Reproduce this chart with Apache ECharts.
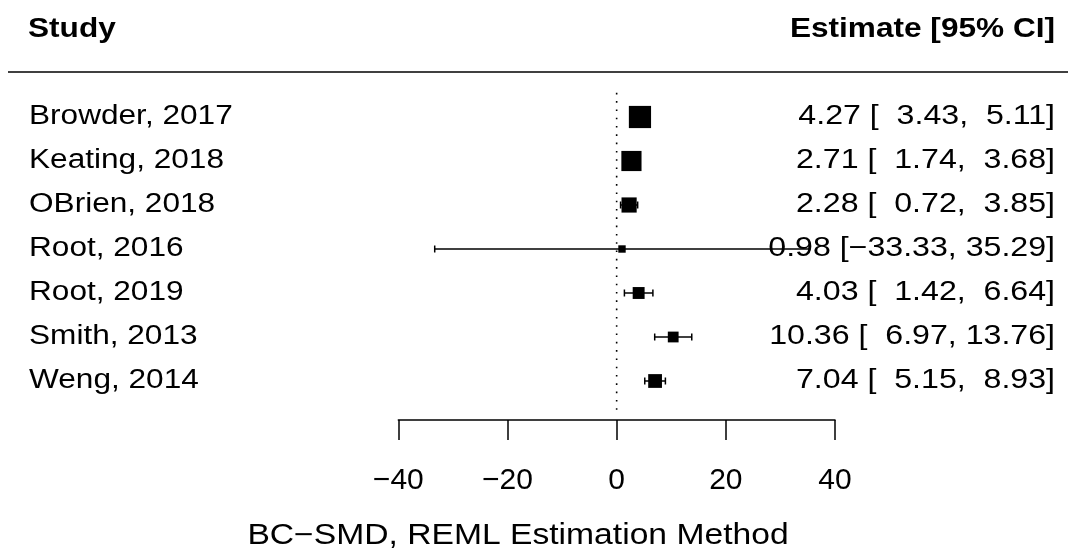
<!DOCTYPE html>
<html>
<head>
<meta charset="utf-8">
<script src="https://cdn.jsdelivr.net/npm/echarts@6/dist/echarts.min.js"></script>
<style>
html,body{margin:0;padding:0;background:#fff;}
#chart{width:1068px;height:552px;}
</style>
</head>
<body>
<div id="chart"></div>
<script>
// ---- data ----
var studies = ['Browder, 2017', 'Keating, 2018', 'OBrien, 2018', 'Root, 2016', 'Root, 2019', 'Smith, 2013', 'Weng, 2014'];
var estimates = [4.27, 2.71, 2.28, 0.98, 4.03, 10.36, 7.04];
var ciLower = [3.43, 1.74, 0.72, -33.33, 1.42, 6.97, 5.15];
var ciUpper = [5.11, 3.68, 3.85, 35.29, 6.64, 13.76, 8.93];
var xTicks = [-40, -20, 0, 20, 40];
var headerLeft = 'Study';
var headerRight = 'Estimate [95% CI]';
var xTitle = 'BC\u2212SMD, REML Estimation Method';

// ---- helpers ----
var FONT = '"Liberation Sans", Arial, Helvetica, sans-serif';
var FS = 27, SX = 1.17;
function fmt(v, w) {
  var s = Math.abs(v).toFixed(2);
  if (v < 0) s = '\u2212' + s;
  while (s.length < w) s = ' ' + s;
  return s;
}
var annotations = studies.map(function (s, i) {
  return fmt(estimates[i], 5) + ' [' + fmt(ciLower[i], 6) + ', ' + fmt(ciUpper[i], 5) + ']';
});
// point sizes as in metafor: proportional to 1/SE, rescaled to [0.5, 1.5]
var inv = studies.map(function (s, i) { return 3.92 / (ciUpper[i] - ciLower[i]); });
var mn = Math.min.apply(null, inv), mx = Math.max.apply(null, inv);
var cex = inv.map(function (v) { return (v - mn) / (mx - mn) + 0.5; });
var UNIT = 14.8;

var rowData = studies.map(function (s, i) { return [i + 1, ciLower[i], ciUpper[i]]; });
var pointData = studies.map(function (s, i) { return { value: [estimates[i], i + 1], symbolSize: cex[i] * UNIT }; });

var GRID_LEFT = 398.3, GRID_RIGHT_X = 835;
var GRID_TOP = 73, GRID_BOTTOM_Y = 420, ROW_H = 44;
var yMax = (GRID_BOTTOM_Y - GRID_TOP) / ROW_H;
var LABEL_X = 29, ANNOT_X = 1055, TEXT_DY = 0;

var chart = echarts.init(document.getElementById('chart'), null, { renderer: 'canvas' });

function txt(x, y, s, align, opts) {
  opts = opts || {};
  return {
    type: 'text', x: x, y: y, scaleX: opts.sx || SX,
    style: {
      text: s, x: 0, y: 0, fill: '#000',
      fontFamily: FONT, fontSize: opts.fs || FS, fontWeight: opts.bold ? 'bold' : 'normal',
      align: align, verticalAlign: 'middle', textAlign: align, textVerticalAlign: 'middle'
    }
  };
}

var option = {
  animation: false,
  backgroundColor: '#fff',
  grid: { left: GRID_LEFT, right: 1068 - GRID_RIGHT_X, top: GRID_TOP, bottom: 552 - GRID_BOTTOM_Y, containLabel: false },
  xAxis: {
    type: 'value', min: xTicks[0], max: xTicks[xTicks.length - 1], interval: 20, position: 'bottom',
    axisLine: { show: true, onZero: false, lineStyle: { color: '#000', width: 1.5 } },
    axisTick: { show: true, inside: false, length: 20, lineStyle: { color: '#000', width: 1.5 } },
    splitLine: { show: false },
    axisLabel: {
      margin: 46, fontFamily: FONT, fontSize: 30, color: '#000',
      formatter: function (v) { return v < 0 ? '\u2212' + Math.abs(v) : String(v); }
    }
  },
  yAxis: {
    type: 'value', inverse: true, min: 0, max: yMax, show: false
  },
  series: [{
    type: 'line', silent: true, symbol: 'none',
    data: [[0, 0.45], [0, 7.75]],
    lineStyle: { color: '#000', width: 1.6, type: [1.6, 6.7] }, z: 1
  }, {
    type: 'custom', silent: true,
    data: rowData,
    encode: { x: [1, 2], y: 0 },
    renderItem: function (params, api) {
      var i = params.dataIndex;
      var y = api.value(0);
      var a = api.coord([api.value(1), y]);
      var b = api.coord([api.value(2), y]);
      var h = 3.5;
      var st = { stroke: '#000', lineWidth: 1.5 };
      return {
        type: 'group', children: [
          { type: 'line', shape: { x1: a[0], y1: a[1], x2: b[0], y2: b[1] }, style: st },
          { type: 'line', shape: { x1: a[0], y1: a[1] - h, x2: a[0], y2: a[1] + h }, style: st },
          { type: 'line', shape: { x1: b[0], y1: b[1] - h, x2: b[0], y2: b[1] + h }, style: st },
          txt(LABEL_X, a[1] + TEXT_DY, studies[i], 'left'),
          txt(ANNOT_X, a[1] + TEXT_DY, annotations[i], 'right', { sx: 1.19 })
        ]
      };
    }, z: 2
  }, {
    type: 'scatter', silent: true, symbol: 'rect',
    data: pointData,
    itemStyle: { color: '#000', opacity: 1 }, z: 3
  }],
  graphic: [
    { type: 'line', shape: { x1: 8, y1: 72, x2: 1068, y2: 72 }, style: { stroke: '#000', lineWidth: 1.5 } },
    txt(28, 30, headerLeft, 'left', { bold: true }),
    txt(1055, 30, headerRight, 'right', { bold: true }),
    txt(518, 536, xTitle, 'center', { fs: 29, sx: 1.16 })
  ]
};
chart.setOption(option);
</script>
</body>
</html>
